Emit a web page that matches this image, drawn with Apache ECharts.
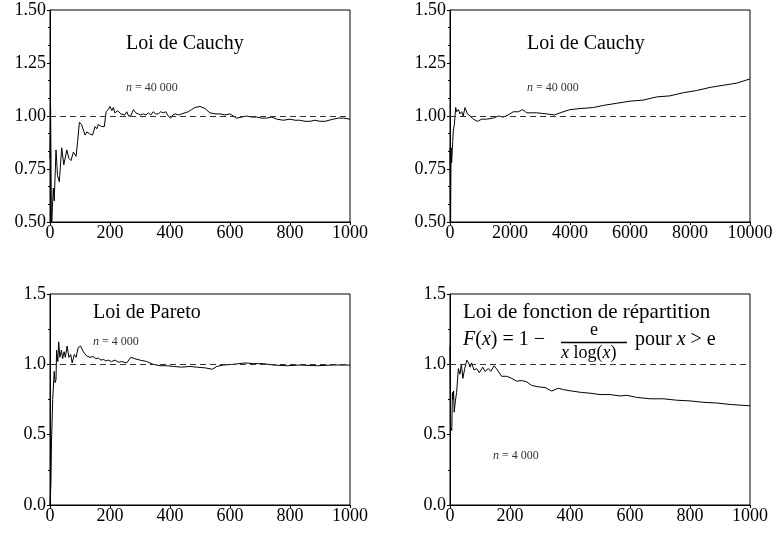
<!DOCTYPE html>
<html>
<head>
<meta charset="utf-8">
<script src="https://cdn.jsdelivr.net/npm/echarts@6/dist/echarts.min.js"></script>
<style>
  html, body { margin: 0; padding: 0; background: #fff; }
  #main { width: 776px; height: 534px; }
</style>
</head>
<body>
<div id="main"></div>
<script>
// panel 1 : Cauchy, n = 40 000, x 0..1000
var cauchyX = [0, 2, 5, 8, 11, 14, 20, 25, 31, 39, 46, 56, 63, 70, 78, 87, 92, 98, 105, 117, 123, 128, 133, 142, 150, 156, 161, 172, 181, 187, 194, 200, 206, 211, 216, 220, 226, 231, 236, 242, 249, 256, 262, 269, 278, 286, 294, 302, 311, 320, 328, 336, 344, 352, 361, 369, 378, 386, 394, 402, 410, 417, 428, 439, 450, 461, 472, 483, 500, 517, 533, 550, 567, 583, 600, 611, 622, 639, 656, 672, 689, 705, 722, 739, 756, 778, 800, 817, 833, 850, 867, 883, 900, 917, 930, 944, 961, 978, 1000];
var cauchyY = [0.80, 1.04, 0.45, 0.57, 0.66, 0.60, 0.84, 0.72, 0.69, 0.85, 0.77, 0.84, 0.80, 0.79, 0.83, 0.81, 0.88, 0.97, 0.96, 0.91, 0.925, 0.93, 0.915, 0.91, 0.95, 0.94, 0.96, 0.95, 0.95, 1.02, 1.03, 1.045, 1.025, 1.04, 1.015, 1.01, 1.025, 1.03, 1.01, 1.015, 1.005, 1.02, 1.00, 1.00, 1.03, 1.015, 1.01, 1.005, 1.01, 1.005, 1.015, 1.005, 1.02, 1.01, 1.01, 1.02, 1.015, 1.02, 1.00, 0.99, 1.005, 1.01, 1.005, 1.01, 1.015, 1.02, 1.03, 1.04, 1.045, 1.035, 1.015, 1.01, 1.01, 1.005, 1.01, 1.00, 0.99, 0.995, 1.00, 0.995, 0.995, 0.99, 0.99, 0.995, 0.985, 0.98, 0.985, 0.98, 0.98, 0.975, 0.975, 0.98, 0.975, 0.975, 0.98, 0.985, 0.99, 0.99, 0.985];

// panel 2 : Cauchy, n = 40 000, x 0..10000
var cauchyLongX = [0, 10, 20, 35, 55, 90, 110, 145, 190, 220, 280, 330, 390, 440, 500, 580, 670, 780, 910, 1060, 1220, 1440, 1610, 1780, 1940, 2110, 2280, 2420, 2560, 2890, 3220, 3480, 3670, 4000, 4330, 4780, 5110, 5560, 6000, 6440, 6890, 7330, 7780, 8220, 8670, 9110, 9560, 10000];
var cauchyLongY = [0.85, 0.60, 0.50, 0.85, 0.78, 0.88, 0.93, 0.96, 1.04, 1.02, 1.03, 1.01, 1.02, 1.00, 1.04, 1.01, 1.00, 0.985, 0.975, 0.985, 0.985, 0.99, 1.00, 0.995, 1.005, 1.02, 1.02, 1.03, 1.015, 1.015, 1.01, 1.005, 1.015, 1.03, 1.035, 1.04, 1.05, 1.06, 1.07, 1.075, 1.09, 1.095, 1.11, 1.12, 1.135, 1.145, 1.155, 1.175];

// panel 3 : Pareto, n = 4 000
var paretoX = [0, 3, 5, 9, 12, 14, 17, 20, 22, 26, 29, 33, 38, 42, 47, 51, 57, 63, 69, 74, 81, 87, 94, 102, 111, 122, 133, 144, 153, 161, 170, 178, 186, 194, 205, 217, 228, 239, 256, 269, 283, 300, 322, 344, 367, 389, 411, 439, 467, 489, 517, 541, 556, 578, 611, 650, 678, 711, 744, 789, 833, 889, 944, 1000];
var paretoY = [0.00, 0.15, 0.45, 0.75, 0.75, 0.95, 0.87, 0.89, 1.10, 1.02, 1.16, 1.05, 1.10, 1.04, 1.09, 1.05, 1.13, 1.05, 1.07, 1.01, 1.07, 1.05, 1.12, 1.13, 1.09, 1.06, 1.05, 1.055, 1.04, 1.045, 1.03, 1.035, 1.025, 1.03, 1.02, 1.03, 1.015, 1.02, 1.01, 1.05, 1.04, 1.03, 1.02, 1.00, 0.99, 0.99, 0.985, 0.98, 0.985, 0.98, 0.975, 0.965, 0.985, 0.995, 1.00, 1.01, 1.005, 1.005, 0.995, 0.99, 0.995, 0.99, 0.995, 0.995];

// panel 4 : F(x) = 1 - e/(x log x), n = 4 000
var repX = [0, 2, 6, 8, 10, 12, 14, 18, 22, 28, 33, 38, 43, 49, 56, 62, 67, 72, 80, 89, 98, 109, 117, 128, 136, 147, 158, 172, 189, 206, 222, 239, 256, 272, 294, 317, 339, 361, 378, 406, 439, 467, 500, 533, 567, 589, 622, 667, 711, 756, 800, 844, 889, 933, 967, 1000];
var repY = [1.13, 0.55, 0.53, 0.80, 0.75, 0.81, 0.66, 0.74, 0.80, 0.97, 0.93, 1.00, 0.90, 0.97, 1.03, 1.01, 0.98, 1.01, 0.96, 0.97, 0.94, 0.98, 0.95, 0.97, 0.95, 0.99, 0.96, 0.915, 0.915, 0.90, 0.88, 0.885, 0.875, 0.85, 0.84, 0.835, 0.81, 0.83, 0.82, 0.81, 0.80, 0.795, 0.785, 0.785, 0.775, 0.78, 0.765, 0.755, 0.755, 0.745, 0.74, 0.73, 0.725, 0.715, 0.71, 0.705];

function pairs(xs, ys) {
  var out = [];
  for (var i = 0; i < xs.length; i++) out.push([xs[i], ys[i]]);
  return out;
}

var font = 'Liberation Serif';
var myChart = echarts.init(document.getElementById('main'));

var grids = [
  { left: 50, top: 10, width: 300, height: 212 },
  { left: 450, top: 10, width: 300, height: 212 },
  { left: 50, top: 294, width: 300, height: 211 },
  { left: 450, top: 294, width: 300, height: 211 }
];
grids.forEach(function (g) {
  g.show = true;
  g.borderColor = '#000';
  g.borderWidth = 1;
  g.containLabel = false;
});

function xAxis(i, max, interval) {
  return {
    type: 'value', gridIndex: i, min: 0, max: max, interval: interval,
    axisLine: { lineStyle: { color: '#000', width: 1 } },
    axisTick: { length: 3, lineStyle: { color: '#000' } },
    axisLabel: {
      color: '#000', fontFamily: font, fontSize: 18, margin: 2,
      formatter: function (v) { return String(v); }
    },
    splitLine: { show: false }
  };
}
function yAxis(i, min, interval, digits, minor) {
  return {
    type: 'value', gridIndex: i, min: min, max: 1.5, interval: interval,
    axisLine: { show: true, lineStyle: { color: '#000', width: 1 } },
    axisTick: { show: true, length: 3, lineStyle: { color: '#000' } },
    minorTick: { show: true, splitNumber: minor, length: 2, lineStyle: { color: '#000' } },
    axisLabel: {
      color: '#000', fontFamily: font, fontSize: 18, margin: 4,
      formatter: function (v) { return v.toFixed(digits); }
    },
    splitLine: { show: false }
  };
}

var refLine = {
  silent: true, symbol: 'none', animation: false,
  label: { show: false },
  lineStyle: { color: '#333', width: 1, type: [6, 4] },
  data: [{ yAxis: 1 }]
};

function lineSeries(i, data) {
  return {
    type: 'line', xAxisIndex: i, yAxisIndex: i, data: data,
    showSymbol: false, animation: false, clip: true,
    lineStyle: { color: '#000', width: 1 },
    markLine: refLine
  };
}

function txt(x, y, s, size) {
  return { type: 'text', left: x, top: y, z: 10, style: { text: s, fontFamily: font, fontSize: size, fill: '#000' } };
}
function richTxt(x, y, s, size, color) {
  return {
    type: 'text', left: x, top: y, z: 10,
    style: {
      text: s, fontFamily: font, fontSize: size, fill: color,
      rich: { i: { fontStyle: 'italic', fontFamily: font, fontSize: size, fill: color } }
    }
  };
}

var option = {
  animation: false,
  backgroundColor: '#fff',
  grid: grids,
  xAxis: [xAxis(0, 1000, 200), xAxis(1, 10000, 2000), xAxis(2, 1000, 200), xAxis(3, 1000, 200)],
  yAxis: [yAxis(0, 0.5, 0.25, 2, 3), yAxis(1, 0.5, 0.25, 2, 3), yAxis(2, 0, 0.5, 1, 2), yAxis(3, 0, 0.5, 1, 2)],
  series: [
    lineSeries(0, pairs(cauchyX, cauchyY)),
    lineSeries(1, pairs(cauchyLongX, cauchyLongY)),
    lineSeries(2, pairs(paretoX, paretoY)),
    lineSeries(3, pairs(repX, repY))
  ],
  graphic: [
    txt(126, 34, 'Loi de Cauchy', 20),
    richTxt(126, 82, '{i|n} = 40 000', 12, '#333'),
    txt(527, 34, 'Loi de Cauchy', 20),
    richTxt(527, 82, '{i|n} = 40 000', 12, '#333'),
    txt(93, 303, 'Loi de Pareto', 20),
    richTxt(93, 336, '{i|n} = 4 000', 12, '#333'),
    txt(463, 302, 'Loi de fonction de répartition', 21),
    richTxt(463, 330, '{i|F}({i|x}) = 1 −', 20, '#000'),
    txt(590, 321, 'e', 18),
    { type: 'line', z: 10, shape: { x1: 561, y1: 342.5, x2: 627, y2: 342.5 }, style: { stroke: '#000', lineWidth: 1.5 } },
    richTxt(561, 344, '{i|x} log({i|x})', 18, '#000'),
    richTxt(635, 330, 'pour {i|x} > e', 20, '#000'),
    richTxt(493, 450, '{i|n} = 4 000', 12, '#333')
  ]
};
myChart.setOption(option);
</script>
</body>
</html>
